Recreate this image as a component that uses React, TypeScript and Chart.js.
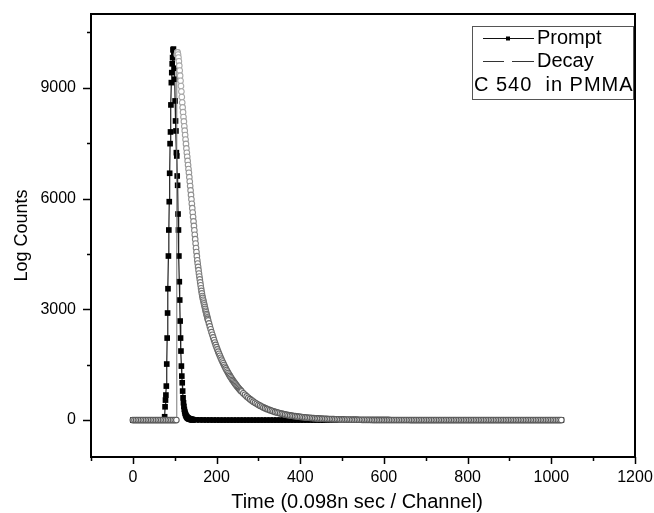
import React, { useEffect, useRef } from 'react';
import { Chart, registerables } from 'chart.js';

Chart.register(...registerables);

const FONT = "'Liberation Sans', Arial, sans-serif";

// ---- axis ticks ----
const xMajorTicks = [0, 200, 400, 600, 800, 1000, 1200];
const xMinorTicks = [-100, 100, 300, 500, 700, 900, 1100];
const yMajorTicks = [0, 3000, 6000, 9000];
const yMinorTicks = [1500, 4500, 7500, 10500];

// ---- texts ----
const xTitle = 'Time (0.098n sec / Channel)';
const yTitle = 'Log Counts';
const promptLabel = 'Prompt';
const decayLabel = 'Decay';
const sampleNote = 'C 540  in PMMA';

// ---- Prompt (instrument response), counts per channel segment ----
const promptBaseStart = 0, promptBaseStep = 4; // channels 0..72
const promptBaseCounts = [0, 0, 0, 0, 0, 0, 0, 0, 0, 0, 0, 0, 0, 0, 0, 0, 0, 0, 0];
const promptPeakStart = 73, promptPeakStep = 1; // channels 73..143
const promptPeakCounts = [
  0, 0, 0, 90, 360, 542, 678,
  921, 1518, 2222, 2900, 3558, 4444, 5149, 5916, 6686, 7488,
  7805, 8537, 9141, 9412, 9650, 9818, 10027, 10050, 9955, 9531,
  9233, 8645, 8103, 7832, 7244, 7154, 6612, 6360, 5582, 5149,
  4444, 3748, 3252, 2683, 2222, 1870, 1463, 1192, 1011, 786,
  604, 470, 370, 290, 230, 185, 150, 122, 100, 83,
  70, 59, 50, 43, 37, 32, 28, 24, 21, 18,
  16, 14, 12, 10,
];
const promptTailStart = 144, promptTailStep = 8; // channels 144..1024
const promptTailCounts = [
  8, 6, 4, 3, 2, 2, 1, 1, 0, 0,
  0, 0, 0, 0, 0, 0, 0, 0, 0, 0,
  0, 0, 0, 0, 0, 0, 0, 0, 0, 0,
  0, 0, 0, 0, 0, 0, 0, 0, 0, 0,
  0, 0, 0, 0, 0, 0, 0, 0, 0, 0,
  0, 0, 0, 0, 0, 0, 0, 0, 0, 0,
  0, 0, 0, 0, 0, 0, 0, 0, 0, 0,
  0, 0, 0, 0, 0, 0, 0, 0, 0, 0,
  0, 0, 0, 0, 0, 0, 0, 0, 0, 0,
  0, 0, 0, 0, 0, 0, 0, 0, 0, 0,
  0, 0, 0, 0, 0, 0, 0, 0, 0, 0,
  0,
];

// ---- Decay (C 540 in PMMA), counts per channel segment ----
const decayBaseStart = 0, decayBaseStep = 4; // channels 0..104
const decayBaseCounts = [
  0, 0, 0, 0, 0, 0, 0, 0, 0, 0,
  0, 0, 0, 0, 0, 0, 0, 0, 0, 0,
  0, 0, 0, 0, 0, 0, 0,
];
const decayPeakStart = 105, decayPeakStep = 1; // channels 105..180
const decayPeakCounts = [
  9900, 9960, 9960, 9900, 9820,
  9720, 9600, 9470, 9330, 9190, 9050, 8900, 8750, 8600, 8470,
  8340, 8210, 8090, 7960, 7840, 7720, 7600, 7480, 7360, 7240,
  7130, 7020, 6910, 6800, 6700, 6580, 6460, 6340, 6220, 6100,
  5980, 5860, 5740, 5620, 5500, 5380, 5260, 5140, 5020, 4900,
  4780, 4660, 4550, 4440, 4330, 4240, 4150, 4060, 3970, 3890,
  3810, 3730, 3650, 3570, 3500, 3430, 3360, 3310, 3260, 3210,
  3160, 3110, 3060, 3010, 2960, 2920, 2870, 2830, 2780, 2740,
  2700,
];
const decayMidStart = 182, decayMidStep = 2; // channels 182..260
const decayMidCounts = [
  2617, 2536, 2458, 2382, 2309, 2238, 2169, 2102, 2037, 1974,
  1913, 1854, 1797, 1742, 1688, 1636, 1586, 1537, 1490, 1444,
  1399, 1356, 1314, 1274, 1235, 1197, 1160, 1124, 1089, 1056,
  1023, 992, 961, 931, 903, 875, 848, 822, 796, 772,
];
const decayTailStart = 264, decayTailStep = 4; // channels 264..1024
const decayTailCounts = [
  727, 683, 642, 603, 566, 532, 500, 469, 441, 414,
  389, 366, 343, 323, 303, 285, 268, 251, 236, 222,
  208, 196, 184, 173, 162, 152, 143, 134, 126, 119,
  111, 105, 98, 92, 87, 82, 77, 72, 68, 63,
  60, 56, 52, 49, 46, 44, 41, 38, 36, 34,
  32, 30, 28, 26, 25, 23, 22, 20, 19, 18,
  17, 16, 15, 14, 13, 12, 11, 11, 10, 9,
  9, 8, 8, 7, 7, 6, 6, 5, 5, 5,
  4, 4, 4, 3, 3, 3, 3, 3, 2, 2,
  2, 2, 2, 2, 2, 2, 2, 2, 2, 2,
  1, 1, 1, 1, 1, 1, 1, 1, 1, 1,
  1, 1, 1, 1, 1, 1, 1, 1, 1, 1,
  0, 0, 0, 0, 0, 0, 0, 0, 0, 0,
  0, 0, 0, 0, 0, 0, 0, 0, 0, 0,
  0, 0, 0, 0, 0, 0, 0, 0, 0, 0,
  0, 0, 0, 0, 0, 0, 0, 0, 0, 0,
  0, 0, 0, 0, 0, 0, 0, 0, 0, 0,
  0, 0, 0, 0, 0, 0, 0, 0, 0, 0,
  0, 0, 0, 0, 0, 0, 0, 0, 0, 0,
  0,
];

function seg(start: number, step: number, counts: number[]) {
  return counts.map((y, i) => ({ x: start + i * step, y }));
}

const promptData = [
  ...seg(promptBaseStart, promptBaseStep, promptBaseCounts),
  ...seg(promptPeakStart, promptPeakStep, promptPeakCounts),
  ...seg(promptTailStart, promptTailStep, promptTailCounts),
];
const decayData = [
  ...seg(decayBaseStart, decayBaseStep, decayBaseCounts),
  ...seg(decayPeakStart, decayPeakStep, decayPeakCounts),
  ...seg(decayMidStart, decayMidStep, decayMidCounts),
  ...seg(decayTailStart, decayTailStep, decayTailCounts),
];

// circle outline: light grey where markers are sparse (high counts), darker where dense
function decayOutline(c: any) {
  const y = c.raw && typeof c.raw.y === 'number' ? c.raw.y : 0;
  const g = Math.round(90 + 80 * Math.min(1, y / 9000));
  return `rgb(${g},${g},${g})`;
}

const framePlugin = {
  id: 'frameAndLegend',
  afterDraw(chart: any) {
    const { ctx, chartArea: a, scales } = chart;
    const xs = scales.x;
    const ys = scales.y;
    ctx.save();
    // frame
    ctx.strokeStyle = '#000';
    ctx.lineWidth = 2;
    ctx.strokeRect(a.left, a.top, a.right - a.left, a.bottom - a.top);
    // ticks
    ctx.lineWidth = 1.5;
    ctx.beginPath();
    for (const v of xMajorTicks) {
      const p = Math.round(xs.getPixelForValue(v)) + 0.5;
      ctx.moveTo(p, a.bottom);
      ctx.lineTo(p, a.bottom + 7);
    }
    for (const v of xMinorTicks) {
      const p = Math.round(xs.getPixelForValue(v)) + 0.5;
      ctx.moveTo(p, a.bottom);
      ctx.lineTo(p, a.bottom + 4);
    }
    for (const v of yMajorTicks) {
      const p = Math.round(ys.getPixelForValue(v)) + 0.5;
      ctx.moveTo(a.left, p);
      ctx.lineTo(a.left - 8, p);
    }
    for (const v of yMinorTicks) {
      const p = Math.round(ys.getPixelForValue(v)) + 0.5;
      ctx.moveTo(a.left, p);
      ctx.lineTo(a.left - 4, p);
    }
    ctx.stroke();

    // x axis title
    ctx.fillStyle = '#000';
    ctx.font = `20px ${FONT}`;
    ctx.textAlign = 'center';
    ctx.textBaseline = 'middle';
    ctx.fillText(xTitle, (a.left + a.right) / 2 - 6, 502);

    // legend box
    const bx = 472, by = 26, bw = 161, bh = 73;
    ctx.fillStyle = '#fff';
    ctx.fillRect(bx, by, bw, bh);
    ctx.strokeStyle = '#555';
    ctx.lineWidth = 1;
    ctx.strokeRect(bx + 0.5, by + 0.5, bw, bh);

    const l1 = 38, l2 = 61, l3 = 85;
    // Prompt sample
    ctx.strokeStyle = '#111';
    ctx.lineWidth = 1;
    ctx.beginPath();
    ctx.moveTo(483, l1 + 0.5);
    ctx.lineTo(534, l1 + 0.5);
    ctx.stroke();
    ctx.fillStyle = '#000';
    ctx.fillRect(506, l1 - 1.5, 4, 4);
    // Decay sample (dashed)
    ctx.strokeStyle = '#333';
    ctx.beginPath();
    ctx.moveTo(483, l2 + 0.5);
    ctx.lineTo(504, l2 + 0.5);
    ctx.moveTo(512, l2 + 0.5);
    ctx.lineTo(534, l2 + 0.5);
    ctx.stroke();

    ctx.fillStyle = '#000';
    ctx.font = `20px ${FONT}`;
    ctx.textBaseline = 'middle';
    ctx.textAlign = 'left';
    ctx.fillText(promptLabel, 537, l1);
    ctx.fillText(decayLabel, 537, l2);
    (ctx as any).letterSpacing = '1px';
    ctx.fillText(sampleNote, 474, l3);
    (ctx as any).letterSpacing = '0px';
    ctx.restore();
  },
};

export default function App() {
  const ref = useRef<HTMLCanvasElement | null>(null);

  useEffect(() => {
    document.body.style.margin = '0';
    const canvas = ref.current;
    if (!canvas) return;
    const chart = new Chart(canvas, {
      type: 'scatter',
      data: {
        datasets: [
          {
            label: decayLabel,
            data: decayData,
            order: 0,
            showLine: true,
            borderColor: '#7a7a7a',
            borderWidth: 1,
            tension: 0,
            pointStyle: 'circle',
            pointRadius: 2.8,
            pointBorderWidth: 1.1,
            pointBackgroundColor: '#ffffff',
            pointBorderColor: decayOutline,
          },
          {
            label: promptLabel,
            data: promptData,
            order: 1,
            showLine: true,
            borderColor: '#222222',
            borderWidth: 1.2,
            tension: 0,
            pointStyle: 'rect',
            pointRadius: 4,
            pointBorderWidth: 0,
            pointBackgroundColor: '#000000',
            pointBorderColor: '#000000',
          },
        ],
      },
      options: {
        animation: false,
        responsive: false,
        events: [],
        layout: { padding: { left: 0, top: 14, right: 19, bottom: 0 } },
        plugins: {
          legend: { display: false },
          tooltip: { enabled: false },
          title: { display: false },
        },
        scales: {
          x: {
            type: 'linear',
            min: -100,
            max: 1200,
            grid: { display: false, drawTicks: false, tickLength: 0 },
            border: { display: false },
            afterBuildTicks: (s: any) => {
              s.ticks = xMajorTicks.map((v) => ({ value: v }));
            },
            afterFit: (s: any) => {
              s.height = 56;
              s.paddingLeft = 0;
              s.paddingRight = 0;
            },
            ticks: {
              autoSkip: false,
              maxRotation: 0,
              padding: 11,
              color: '#000',
              font: { family: FONT, size: 16 },
              callback: (v: any) => String(v),
            },
            title: { display: false, text: xTitle },
          },
          y: {
            type: 'linear',
            min: -1000,
            max: 11000,
            grid: { display: false, drawTicks: false, tickLength: 0 },
            border: { display: false },
            afterBuildTicks: (s: any) => {
              s.ticks = yMajorTicks.map((v) => ({ value: v }));
            },
            afterFit: (s: any) => {
              s.width = 91;
              s.paddingTop = 0;
              s.paddingBottom = 0;
            },
            ticks: {
              autoSkip: false,
              padding: 15,
              color: '#000',
              font: { family: FONT, size: 16 },
              callback: (v: any) => String(v),
            },
            title: {
              display: true,
              text: yTitle,
              color: '#000',
              font: { family: FONT, size: 18 },
              padding: { top: 11, bottom: 0 },
            },
          },
        },
      },
      plugins: [framePlugin],
    });
    return () => chart.destroy();
  }, []);

  return (
    <div style={{ position: 'absolute', left: 0, top: 0, width: 654, height: 513, background: '#fff' }}>
      <canvas ref={ref} width={654} height={513} style={{ display: 'block' }} />
    </div>
  );
}
